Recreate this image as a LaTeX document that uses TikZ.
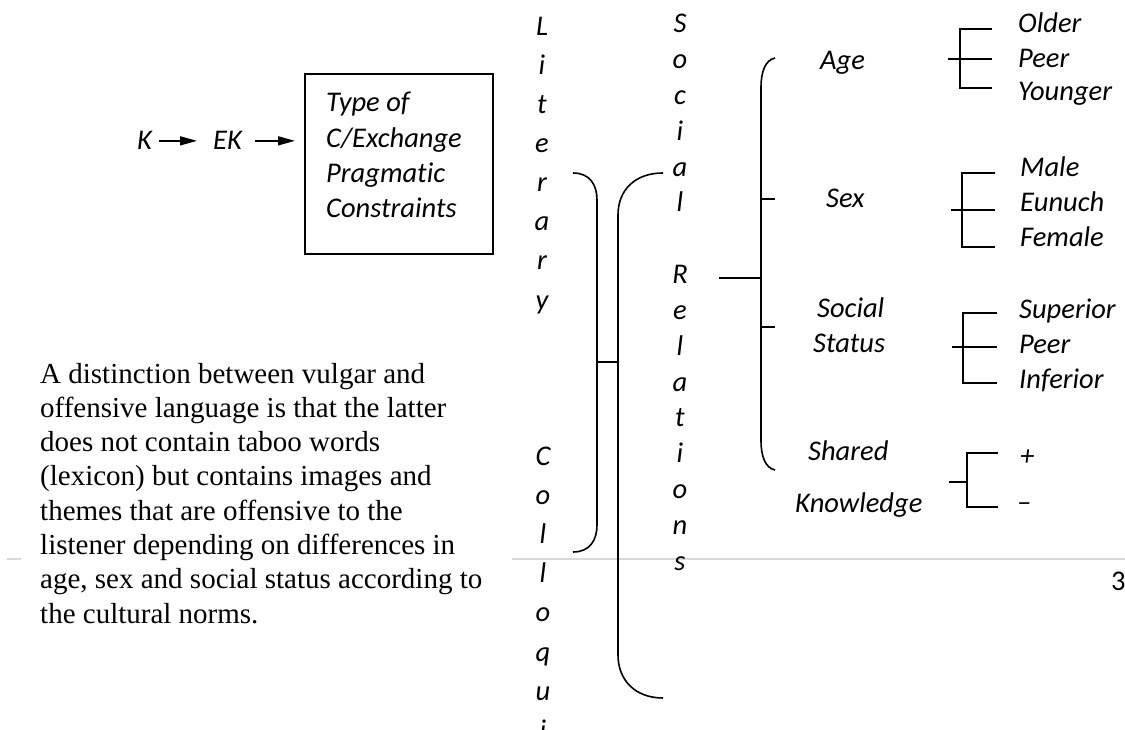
\documentclass[tikz,border=0pt]{standalone}
\usepackage{fontspec}
\setmainfont{Carlito}[Ligatures=NoCommon]
\newfontfamily\serifpara{Liberation Serif}
\usetikzlibrary{arrows.meta}

\begin{document}
\begin{tikzpicture}[x=1pt,y=-1pt,
  lbl/.style={font=\fontsize{28.5}{34}\selectfont\itshape, inner sep=0pt, anchor=base west},
  vlet/.style={font=\fontsize{28.5}{34}\selectfont\itshape, inner sep=0pt, anchor=base},
  para/.style={font=\serifpara\fontsize{29}{34.3}\selectfont, inner sep=0pt, anchor=base west},
  ln/.style={line width=1.6pt},
  arw/.style={line width=1.6pt, -{Triangle[length=17pt,width=9pt]}},
  framebox/.style={draw, line width=1.6pt, minimum width=188pt, minimum height=180pt, inner sep=0pt, anchor=north west},
  pagerule/.style={draw=black!15, line width=1.5pt}
]
\useasboundingbox (0,0) rectangle (1125,730);
\clip (0,0) rectangle (1125,730);

% page rule and page number
\draw[pagerule] (7,559) -- (21,559);
\draw[pagerule] (512,559) -- (1125,559);
\node[font=\fontsize{28.5}{34}\selectfont, anchor=base west, inner sep=0pt] (pgnum) at (1111,590) {3};

% K -> EK -> box
\node[lbl] (k) at (137,150) {K};
\node[lbl] (ek) at (213,150) {EK};
\node[framebox] (box) at (304,73) {};
\node[lbl] (b1) at (326,112) {Type of};
\node[lbl] (b2) at (326,147.3) {C/Exchange};
\node[lbl] (b3) at (326,182.6) {Pragmatic};
\node[lbl] (b4) at (326,218) {Constraints};
\draw[arw] ([xshift=7pt]k.east) -- ([xshift=-16pt]ek.west);
\draw[arw] ([xshift=13pt]ek.east) -- ([xshift=-9pt]box.west |- ek.west);

% paragraph
\foreach \txt [count=\i from 0] in {
  A distinction between vulgar and,
  offensive language is that the latter,
  does not contain taboo words,
  (lexicon) but contains images and,
  themes that are offensive to the,
  listener depending on differences in,
  {age, sex and social status according to},
  the cultural norms.}
  \node[para] (p\i) at (40,{383+34.3*\i}) {\txt};

% vertical words
\foreach \ch [count=\i from 0] in {L,i,t,e,r,a,r,y}
  \node[vlet] (lit\i) at (542,{36+39*\i}) {\ch};
\foreach \ch [count=\i from 0] in {C,o,l,l,o,q,u,i}
  \node[vlet] (col\i) at (543,{465+39.2*\i}) {\ch};
\foreach \ch [count=\i from 0] in {S,o,c,i,a,l}
  \node[vlet] (soc\i) at (680,{33+35.8*\i}) {\ch};
\foreach \ch [count=\i from 0] in {R,e,l,a,t,i,o,n,s}
  \node[vlet] (rel\i) at (680,{33+35.8*(\i+7)}) {\ch};

% brackets joining Literary/Colloquial and Social Relations
\draw[ln] (573,173) .. controls (590,173) and (597,185) .. (597,200) -- (597,525)
          .. controls (597,540) and (590,552) .. (573,552);
\draw[ln] (597,362) -- (618,362);
\draw[ln] (663,173) .. controls (635,173) and (618,190) .. (618,215) -- (618,655)
          .. controls (618,680) and (635,698) .. (663,698);

% Social Relations bracket
\draw[ln] (719,278) -- (761,278);
\draw[ln] (775,58) .. controls (766,60) and (761,70) .. (761,88) -- (761,440)
          .. controls (761,458) and (766,468) .. (775,470);
\draw[ln] (761,199) -- (775,199);
\draw[ln] (761,327) -- (775,327);

% categories
\node[lbl] (age) at (820,70) {Age};
\node[lbl] (sex) at (826,208) {Sex};
\node[lbl] (soc) at (817,317) {Social};
\node[lbl] (stat) at (813,352) {Status};
\node[lbl] (shar) at (808,460) {Shared};
\node[lbl] (know) at (795,512) {Knowledge};

% sub-brackets
\draw[ln] (992,29) -- (960,29) -- (960,88) -- (992,88);
\draw[ln] (948,59) -- (992,59);
\draw[ln] (995,173) -- (962,173) -- (962,247) -- (995,247);
\draw[ln] (951,210) -- (995,210);
\draw[ln] (997,313) -- (963,313) -- (963,383) -- (997,383);
\draw[ln] (952,347) -- (997,347);
\draw[ln] (998,453) -- (967,453) -- (967,507) -- (998,507);
\draw[ln] (949,482) -- (967,482);

% values
\node[lbl] (older) at (1018,33) {Older};
\node[lbl] (peer1) at (1018,68) {Peer};
\node[lbl] (young) at (1018,101) {Younger};
\node[lbl] (male) at (1020,177) {Male};
\node[lbl] (eun) at (1020,212) {Eunuch};
\node[lbl] (fem) at (1020,247) {Female};
\node[lbl] (sup) at (1019,318) {Superior};
\node[lbl] (peer2) at (1019,353) {Peer};
\node[lbl] (inf) at (1019,388) {Inferior};
\node[lbl] (plus) at (1020,465) {+};
\node[lbl] (minus) at (1017,511) {–};
\end{tikzpicture}
\end{document}
